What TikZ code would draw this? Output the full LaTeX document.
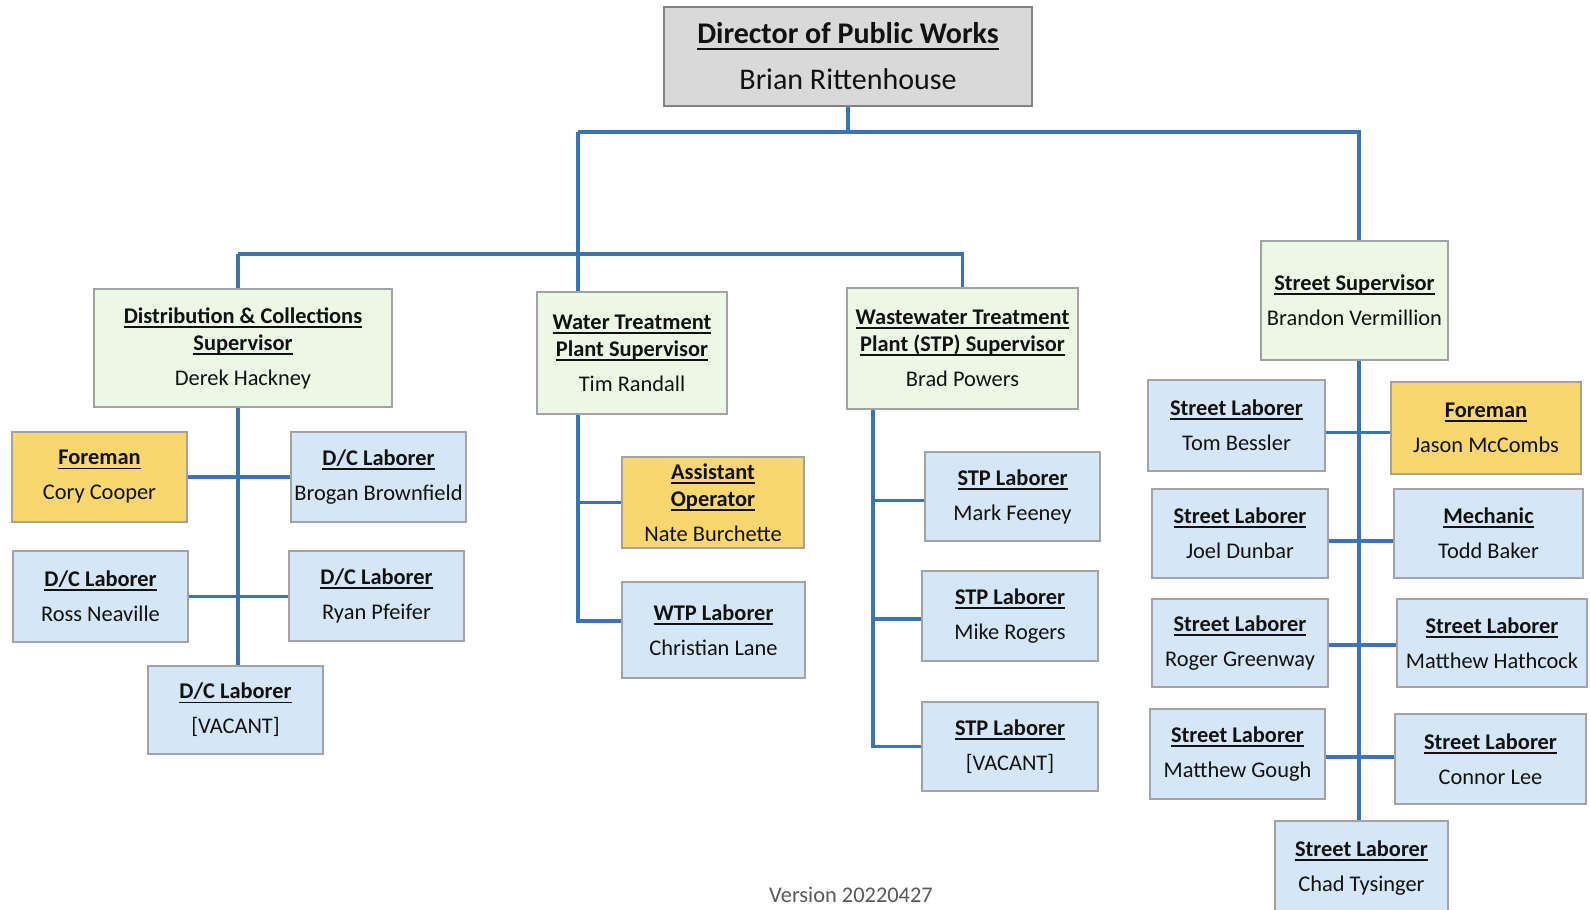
\documentclass[tikz,border=0pt]{standalone}
\usepackage{fontspec}
\setmainfont{Carlito}
\usetikzlibrary{calc}

\definecolor{wire}{HTML}{3A74B4}
\definecolor{edge}{HTML}{A3A3A3}
\definecolor{greyfill}{HTML}{D9D9D9}
\definecolor{greenfill}{HTML}{EDF7E6}
\definecolor{bluefill}{HTML}{D5E7F6}
\definecolor{goldfill}{HTML}{F8D670}
\definecolor{ink}{HTML}{111111}

% bold title with an underline at a fixed depth
\newlength\ulwd
\newcommand\ttl[1]{{\bfseries\settowidth\ulwd{#1}\rlap{\rule[-0.2em]{\ulwd}{0.08em}}#1}}

% \bx{name}{style}{x1}{y1}{x2}{y2}{text}: box given by its corners
\newcommand\bx[7]{\node[#2, minimum width={(#5-#3)*0.5pt}, minimum height={(#6-#4)*0.5pt}] (#1) at ({(#3+#5)/2},{(#4+#6)/2}) {#7};}

\tikzset{
  card/.style={draw=edge, line width=0.7pt, align=center, inner sep=0pt, text=ink,
               font=\fontsize{11.2}{13.5}\selectfont},
  head/.style={card, fill=greyfill, draw=edge!80!black, font=\fontsize{15}{18}\selectfont},
  lead/.style={card, fill=greenfill},
  crew/.style={card, fill=bluefill},
  chief/.style={card, fill=goldfill},
  link/.style={draw=wire, line width=1.8pt},
}

\begin{document}
\begin{tikzpicture}[x=0.5pt, y=-0.5pt]
\useasboundingbox (0,0) rectangle (1590,910);

% top of the chart
\bx{dir}{head}{664}{7}{1032}{106}{\ttl{Director of Public Works}\\[5pt]Brian Rittenhouse}

% supervisors
\bx{dc}{lead}{94}{289}{392}{407}{\ttl{Distribution \& Collections}\\\ttl{Supervisor}\\[4pt]Derek Hackney}
\bx{wtp}{lead}{537}{292}{727}{414}{\ttl{Water Treatment}\\\ttl{Plant Supervisor}\\[4pt]Tim Randall}
\bx{stp}{lead}{847}{288}{1078}{409}{\ttl{Wastewater Treatment}\\\ttl{Plant (STP) Supervisor}\\[4pt]Brad Powers}
\bx{st}{lead}{1261}{241}{1448}{360}{\ttl{Street Supervisor}\\[4pt]Brandon Vermillion}

% distribution & collections crew
\bx{cory}{chief}{12}{432}{187}{522}{\ttl{Foreman}\\[4pt]Cory Cooper}
\bx{brogan}{crew}{291}{432}{466}{522}{\ttl{D/C Laborer}\\[4pt]Brogan Brownfield}
\bx{ross}{crew}{13}{551}{188}{642}{\ttl{D/C Laborer}\\[4pt]Ross Neaville}
\bx{ryan}{crew}{289}{551}{464}{641}{\ttl{D/C Laborer}\\[4pt]Ryan Pfeifer}
\bx{dcvac}{crew}{148}{666}{323}{754}{\ttl{D/C Laborer}\\[4pt][VACANT]}

% water treatment crew
\bx{asst}{chief}{622}{457}{804}{548}{\ttl{Assistant}\\\ttl{Operator}\\[4pt]Nate Burchette}
\bx{wtpl}{crew}{622}{582}{805}{678}{\ttl{WTP Laborer}\\[4pt]Christian Lane}

% wastewater treatment crew
\bx{mark}{crew}{925}{452}{1100}{541}{\ttl{STP Laborer}\\[4pt]Mark Feeney}
\bx{mike}{crew}{922}{571}{1098}{661}{\ttl{STP Laborer}\\[4pt]Mike Rogers}
\bx{stpvac}{crew}{922}{702}{1098}{791}{\ttl{STP Laborer}\\[4pt][VACANT]}

% street crew
\bx{tom}{crew}{1148}{380}{1325}{471}{\ttl{Street Laborer}\\[4pt]Tom Bessler}
\bx{jason}{chief}{1391}{382}{1581}{474}{\ttl{Foreman}\\[4pt]Jason McCombs}
\bx{joel}{crew}{1152}{489}{1328}{578}{\ttl{Street Laborer}\\[4pt]Joel Dunbar}
\bx{todd}{crew}{1394}{489}{1583}{578}{\ttl{Mechanic}\\[4pt]Todd Baker}
\bx{roger}{crew}{1152}{599}{1328}{687}{\ttl{Street Laborer}\\[4pt]Roger Greenway}
\bx{hath}{crew}{1397}{599}{1587}{687}{\ttl{Street Laborer}\\[4pt]Matthew Hathcock}
\bx{gough}{crew}{1150}{709}{1325}{799}{\ttl{Street Laborer}\\[4pt]Matthew Gough}
\bx{connor}{crew}{1395}{714}{1586}{804}{\ttl{Street Laborer}\\[4pt]Connor Lee}
\bx{chad}{crew}{1275}{821}{1448}{915}{\ttl{Street Laborer}\\[4pt]Chad Tysinger}

% bus positions
\coordinate (tb) at ([yshift=-12.5pt]dir.south);
\coordinate (mb) at ([yshift=-61pt]tb);
\coordinate (wtpx) at ([xshift=-27pt]wtp.north);
\coordinate (stx) at ([xshift=2.25pt]st.north);
\coordinate (dcx) at ([xshift=-2.5pt]dc.north);
\coordinate (stpx) at ([xshift=-44.75pt]stp.south);

% upper tree
\draw[link] (dir.south) -- (tb);
\draw[link] (tb -| wtpx) -- (tb -| stx) -- (stx);
\draw[link] (tb -| wtpx) -- (wtpx);
\draw[link] (mb -| dcx) -- (mb -| stp.north) -- (stp.north);
\draw[link] (mb -| dcx) -- (dcx);

% distribution & collections
\draw[link] ([xshift=-2.5pt]dc.south) -- ([xshift=-2.5pt]dc.south |- dcvac.north);
\draw[link] (cory.east) -- (cory.east -| brogan.west);
\draw[link] (ross.east) -- (ross.east -| ryan.west);

% water treatment
\draw[link] ([xshift=-27pt]wtp.south) |- ([yshift=4.5pt]wtpl.west);
\draw[link] (asst.west) -- (asst.west -| wtpx);

% wastewater treatment
\draw[link] (stpx) |- (stpvac.west);
\draw[link] ([yshift=-2pt]mark.west) -- ([yshift=-2pt]mark.west -| stpx);
\draw[link] ([yshift=-1.5pt]mike.west) -- ([yshift=-1.5pt]mike.west -| stpx);

% street
\draw[link] (stx |- st.south) -- (stx |- chad.north);
\draw[link] ([yshift=-3.5pt]tom.east) -- ([yshift=-3.5pt]tom.east -| jason.west);
\draw[link] ([yshift=-3.75pt]joel.east) -- ([yshift=-3.75pt]joel.east -| todd.west);
\draw[link] ([yshift=-1pt]roger.east) -- ([yshift=-1pt]roger.east -| hath.west);
\draw[link] ([yshift=-1.5pt]gough.east) -- ([yshift=-1.5pt]gough.east -| connor.west);

% footer
\node[text=black!65, font=\fontsize{11.2}{13.5}\selectfont] (ver) at (851,895) {Version 20220427};
\end{tikzpicture}
\end{document}
